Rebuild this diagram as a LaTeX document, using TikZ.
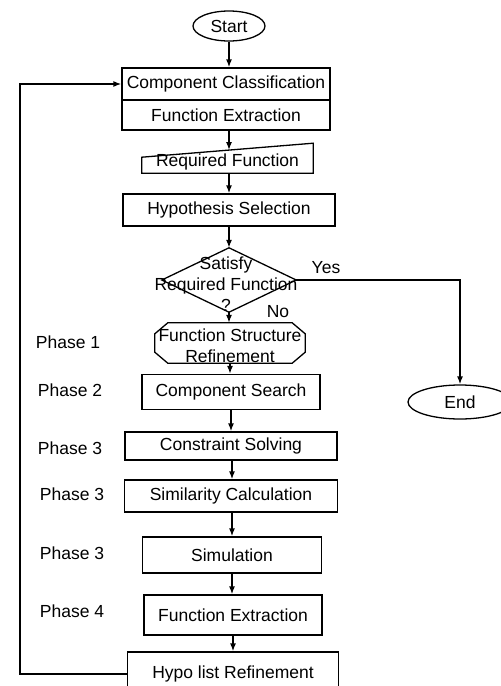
\documentclass[tikz,border=0pt]{standalone}
\usepackage{fontspec}
\setmainfont{Liberation Sans}
\usetikzlibrary{shapes.geometric,arrows.meta}
\begin{document}
\begin{tikzpicture}[x=1pt, y=-1pt,
    font=\fontsize{17.5}{21}\selectfont,
    block/.style={rectangle, draw, line width=1.3pt, inner sep=0pt},
    term/.style={ellipse, draw, line width=1.3pt, inner sep=0pt},
    outline/.style={line width=1.3pt},
    arrow/.style={-{Latex[length=8pt,width=6pt]}, line width=1.3pt}
]
\useasboundingbox (0,0) rectangle (501,686);

\node[term, minimum width=72, minimum height=30] (start) at (229,26) {Start};
\node[block, minimum width=208, minimum height=32] (cc) at (226,84) {Component Classification};
\node[block, minimum width=208, minimum height=30] (fe1) at (226,115) {Function Extraction};
\node[minimum width=171, minimum height=22, inner sep=0pt] (rf) at (227.5,162) {Required Function};
\draw[outline] (rf.south west) -- ([yshift=16pt]rf.south west) -- ([yshift=30pt]rf.south east) -- (rf.south east) -- cycle;
\coordinate (rfin) at (229,150);
\node[block, minimum width=212, minimum height=32] (hs) at (229,210) {Hypothesis Selection};
\node[minimum width=134, minimum height=64, inner sep=0pt] (sat) at (229,280) {};
\draw[outline] (sat.north) -- (sat.east) -- (sat.south) -- (sat.west) -- cycle;
\node[align=center, inner sep=0pt] (sattext) at (226,284) {Satisfy\\Required Function\\?};
\node (yes) at (326,268) {Yes};
\node (no) at (278,312) {No};
\node[term, minimum width=104, minimum height=34] (end) at (460,402) {End};

% octagon for phase 1
\node[minimum width=150, minimum height=40, inner sep=0pt] (fsr) at (230,343) {};
\draw[outline] ([xshift=13pt]fsr.north west) -- ([xshift=-13pt]fsr.north east)
  -- ([yshift=-11pt]fsr.north east) -- ([yshift=11pt]fsr.south east)
  -- ([xshift=-13pt]fsr.south east) -- ([xshift=13pt]fsr.south west)
  -- ([yshift=11pt]fsr.south west) -- ([yshift=-11pt]fsr.north west) -- cycle;
\node[align=center, inner sep=0pt] (fsrtext) at (230,346) {Function Structure\\Refinement};
\node[block, minimum width=178, minimum height=35] (cs) at (231,392) {Component Search};
\node[block, minimum width=212, minimum height=28] (csolv) at (231,446) {Constraint Solving};
\node[block, minimum width=213, minimum height=32] (simc) at (231,496) {Similarity Calculation};
\node[block, minimum width=179, minimum height=36] (sim) at (232,555) {Simulation};
\node[block, minimum width=178, minimum height=40] (fe2) at (233,615) {Function Extraction};
\node[block, minimum width=211, minimum height=44] (hlr) at (233,674) {Hypo list Refinement};

\node (p1) at (68,342) {Phase 1};
\node (p2) at (70,390) {Phase 2};
\node (p3a) at (70,448) {Phase 3};
\node (p3b) at (72,494) {Phase 3};
\node (p3c) at (72,553) {Phase 3};
\node (p4) at (72,611) {Phase 4};

\draw[arrow] (start) -- (start |- cc.north);
\draw[arrow] (fe1.south -| rfin) -- (rfin);
\draw[arrow] (rf.south -| rfin) -- (rfin |- hs.north);
\draw[arrow] (hs.south -| sat) -- (sat.north);
\draw[arrow] (sat.south) -- (sat.south |- fsr.north);
\draw[arrow] (sat.east) -| (end.north);
\draw[arrow] (fsr.south) -- (fsr.south |- cs.north);
\draw[arrow] (cs.south) -- (cs.south |- csolv.north);
\draw[arrow] ([xshift=1pt]csolv.south) -- ([xshift=1pt]csolv.south |- simc.north);
\draw[arrow] ([xshift=1pt]simc.south) -- ([xshift=1pt]simc.south |- sim.north);
\draw[arrow] (sim.south) -- (sim.south |- fe2.north);
\draw[arrow] (fe2.south) -- (fe2.south |- hlr.north);

\coordinate (back) at (20,674);
\draw[arrow] (hlr.west) -- (back) |- (cc.west);
\end{tikzpicture}
\end{document}
